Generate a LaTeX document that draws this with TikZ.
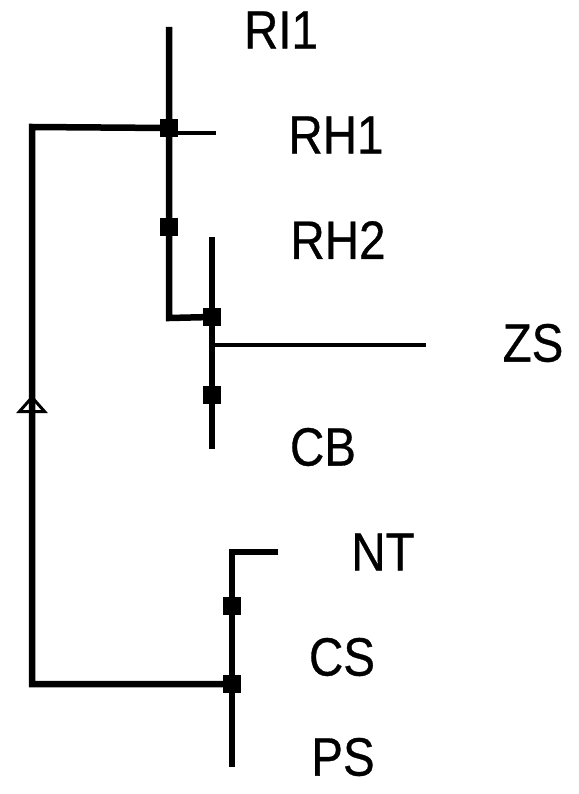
\documentclass[tikz,border=0pt]{standalone}
\usepackage{fontspec}
\setmainfont{Liberation Sans}
\newfontfamily\taxonfont[FakeStretch=0.88,FakeBold=0.6]{Liberation Sans}
\usetikzlibrary{positioning,arrows.meta,decorations.markings}

\begin{document}
\begin{tikzpicture}[x=1pt,y=-1pt]

					\tikzstyle{knot} = [rectangle,fill=black,inner sep=0pt,minimum size=18pt]
					\tikzstyle{stem} = [line width=6.5pt,line join=miter]
					\tikzstyle{twig} = [line width=4.5pt]
					\tikzstyle{taxon} = [inner sep=0pt,font=\taxonfont\fontsize{54}{60}\selectfont]
					\tikzstyle{flecha} = [postaction={decorate},decoration={markings,
						mark=at position 489pt with {\arrow{Triangle[open,length=18pt,width=31pt,line width=3pt]}}}]

					\useasboundingbox (0,0) rectangle (578,794);

					% puntos de las ramas
					\coordinate (ri1) at (169,27);
					\coordinate (rh1a) at (169,133);
					\coordinate (rh1b) at (216,133);
					\coordinate (codo) at (169,318);
					\coordinate (rh2) at (212,237);
					\coordinate (cb) at (212,449);
					\coordinate (zsa) at (212,345);
					\coordinate (zsb) at (426,345);
					\coordinate (nt) at (278,552);
					\coordinate (ntc) at (232,552);
					\coordinate (ps) at (232,767);
					\coordinate (izqa) at (32,127);
					\coordinate (izqb) at (32,684);

					% nudos
					\node[knot] (k1) at (169,128) {};
					\node[knot] (k2) at (169,227) {};
					\node[knot] (k3) at (212,317) {};
					\node[knot] (k4) at (212,395) {};
					\node[knot] (k5) at (232,606) {};
					\node[knot] (k6) at (232,684) {};

					% nombres
					\node[taxon] (tri1) at (281,30) {RI1};
					\node[taxon] (trh1) at (336,135) {RH1};
					\node[taxon] (trh2) at (338,240) {RH2};
					\node[taxon] (tzs) at (533,343) {ZS};
					\node[taxon] (tcb) at (323,447) {CB};
					\node[taxon] (tnt) at (383,552) {NT};
					\node[taxon] (tcs) at (342,657) {CS};
					\node[taxon] (tps) at (343,757) {PS};

					\draw[stem] (ri1) -- (k1.center) -- (k2.center) -- (codo) -- (k3.center);
					\draw[stem] (rh2) -- (k3.center) -- (k4.center) -- (cb);
					\draw[twig] (rh1a) -- (rh1b);
					\draw[twig] (zsa) -- (zsb);
					\draw[stem] (nt) -- (ntc) -- (k5.center) -- (k6.center) -- (ps);
					\draw[stem,flecha] (k6.center) -- (izqb) -- (izqa) -- (k1.center);

\end{tikzpicture}
\end{document}
